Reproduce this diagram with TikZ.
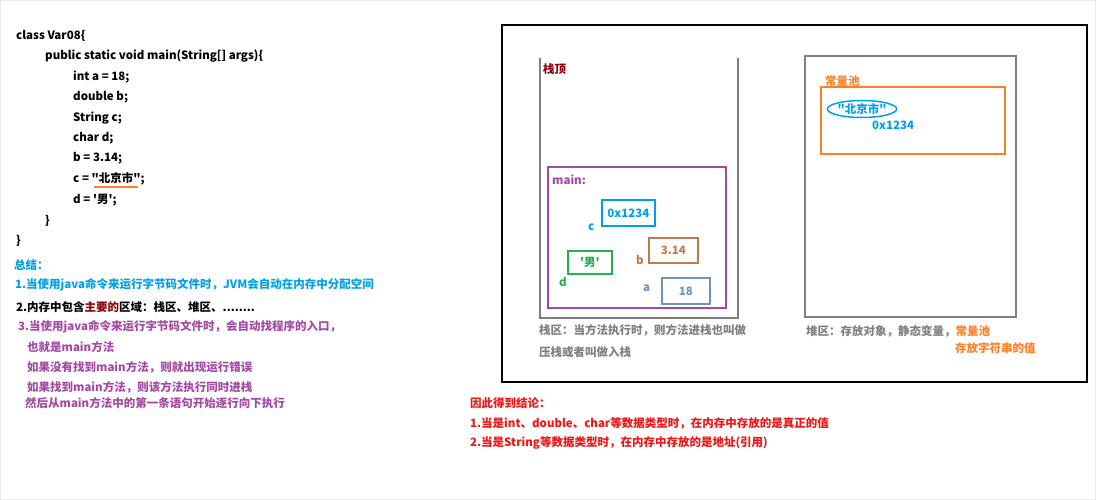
\documentclass[tikz,border=0pt]{standalone}
\usepackage{fontspec}
\setmainfont{Noto Sans CJK SC}[Ligatures=TeXOff]
\usetikzlibrary{shapes.geometric}
\definecolor{skyblue}{RGB}{0,160,233}
\definecolor{darkred}{RGB}{139,0,10}
\definecolor{violet2}{RGB}{163,73,164}
\definecolor{brown2}{RGB}{192,121,78}
\definecolor{green2}{RGB}{34,177,76}
\definecolor{steel}{RGB}{112,146,190}
\definecolor{orange2}{RGB}{255,127,39}
\definecolor{red2}{RGB}{240,20,20}
\definecolor{gray2}{RGB}{127,127,127}
\tikzset{
  txt/.style={anchor=west,inner sep=0pt,font=\fontsize{11.5}{13}\selectfont\bfseries},
  cell/.style={draw,line width=1.7pt,inner sep=0pt,anchor=north west,font=\fontsize{11.5}{13}\selectfont\bfseries}
}
\begin{document}
\begin{tikzpicture}[x=1pt,y=-1pt]
 \useasboundingbox (0,0) rectangle (1096,500);
 \draw[black!8,line width=1pt](0.5,0.5) rectangle (1095.5,499.5);
 % code
 \node[txt] (l1) at (16,36) {class Var08\{};
 \node[txt] (l2) at (45,56) {public static void main(String[] args)\{};
 \node[txt] (l3) at (73,77) {int a = 18;};
 \node[txt] (l4) at (73,97) {double b;};
 \node[txt] (l5) at (73,118) {String c;};
 \node[txt] (l6) at (73,138) {char d;};
 \node[txt] (l7) at (73,158) {b = 3.14;};
 \node[txt] (l8) at (73,179) {c = "北京市";};
 \node[txt] (l9) at (73,200) {d = '男';};
 \node[txt] (l10) at (45,221) {\}};
 \node[txt] (l11) at (16,241) {\}};
 \draw[orange2,line width=1.2pt](94,187)--(138,187);
 % summary
 \node[txt,skyblue] (s0) at (14,265) {总结：};
 \node[txt,skyblue] (s1) at (15,285) {1.当使用java命令来运行字节码文件时，JVM会自动在内存中分配空间};
 \node[txt] (s2) at (16,307) {2.内存中包含\textcolor{darkred}{主要的}区域：栈区、堆区、........};
 \node[txt,violet2] (s3) at (18,327) {3.当使用java命令来运行字节码文件时，会自动找程序的入口，};
 \node[txt,violet2] (s4) at (27,347) {也就是main方法};
 \node[txt,violet2] (s5) at (27,367) {如果没有找到main方法，则就出现运行错误};
 \node[txt,violet2] (s6) at (27,387) {如果找到main方法，则该方法执行同时进栈};
 \node[txt,violet2] (s7) at (25,403) {然后从main方法中的第一条语句开始逐行向下执行};
 % memory
 \draw[black,line width=2pt](502,25) rectangle (1087,382);
 \draw[gray2,line width=1.8pt](540,58)--(540,318)--(738,318)--(738,58);
 \node[txt,darkred] (top) at (543,69) {栈顶};
 \draw[violet2,line width=1.6pt](548,167) rectangle (726,308);
 \node[txt,violet2] (main) at (552,180) {main:};
 \node[cell,skyblue,minimum width=53,minimum height=26] (c) at (601,199) {0x1234};
 \node[txt,skyblue] (cl) at (588,227) {c};
 \node[cell,brown2,minimum width=49,minimum height=25] (b) at (648,237) {3.14};
 \node[txt,brown2] (bl) at (636,260) {b};
 \node[cell,green2,minimum width=44,minimum height=23] (d) at (567,250) {'男'};
 \node[txt,green2] (dl) at (559,282) {d};
 \node[cell,steel,minimum width=48,minimum height=26] (a) at (661,277) {18};
 \node[txt,steel] (al) at (643,288) {a};
 \node[txt,gray2] (st1) at (539,330) {栈区：当方法执行时，则方法进栈也叫做};
 \node[txt,gray2] (st2) at (539,352) {压栈或者叫做入栈};
 \draw[gray2,line width=1.8pt](805,56) rectangle (1016,317);
 \node[txt,orange2] (pool) at (825,81) {常量池};
 \draw[orange2,line width=1.6pt](821,87) rectangle (1005,154);
 \node[ellipse,draw,skyblue,line width=1.5pt,inner sep=0pt,minimum width=62,minimum height=17,font=\fontsize{11.5}{13}\selectfont\bfseries] (str) at (862,109) {"北京市"};
 \node[txt,skyblue] (addr) at (872,125) {0x1234};
 \node[txt,gray2] (h1) at (806,331) {堆区：存放对象，静态变量，\textcolor{orange2}{常量池}};
 \node[txt,orange2] (h2) at (955,348) {存放字符串的值};
 % conclusion
 \node[txt,red2] (r0) at (470,403) {因此得到结论：};
 \node[txt,red2] (r1) at (470,423) {1.当是int、double、char等数据类型时，在内存中存放的是真正的值};
 \node[txt,red2] (r2) at (470,443) {2.当是String等数据类型时，在内存中存放的是地址(引用)};
\end{tikzpicture}
\end{document}
